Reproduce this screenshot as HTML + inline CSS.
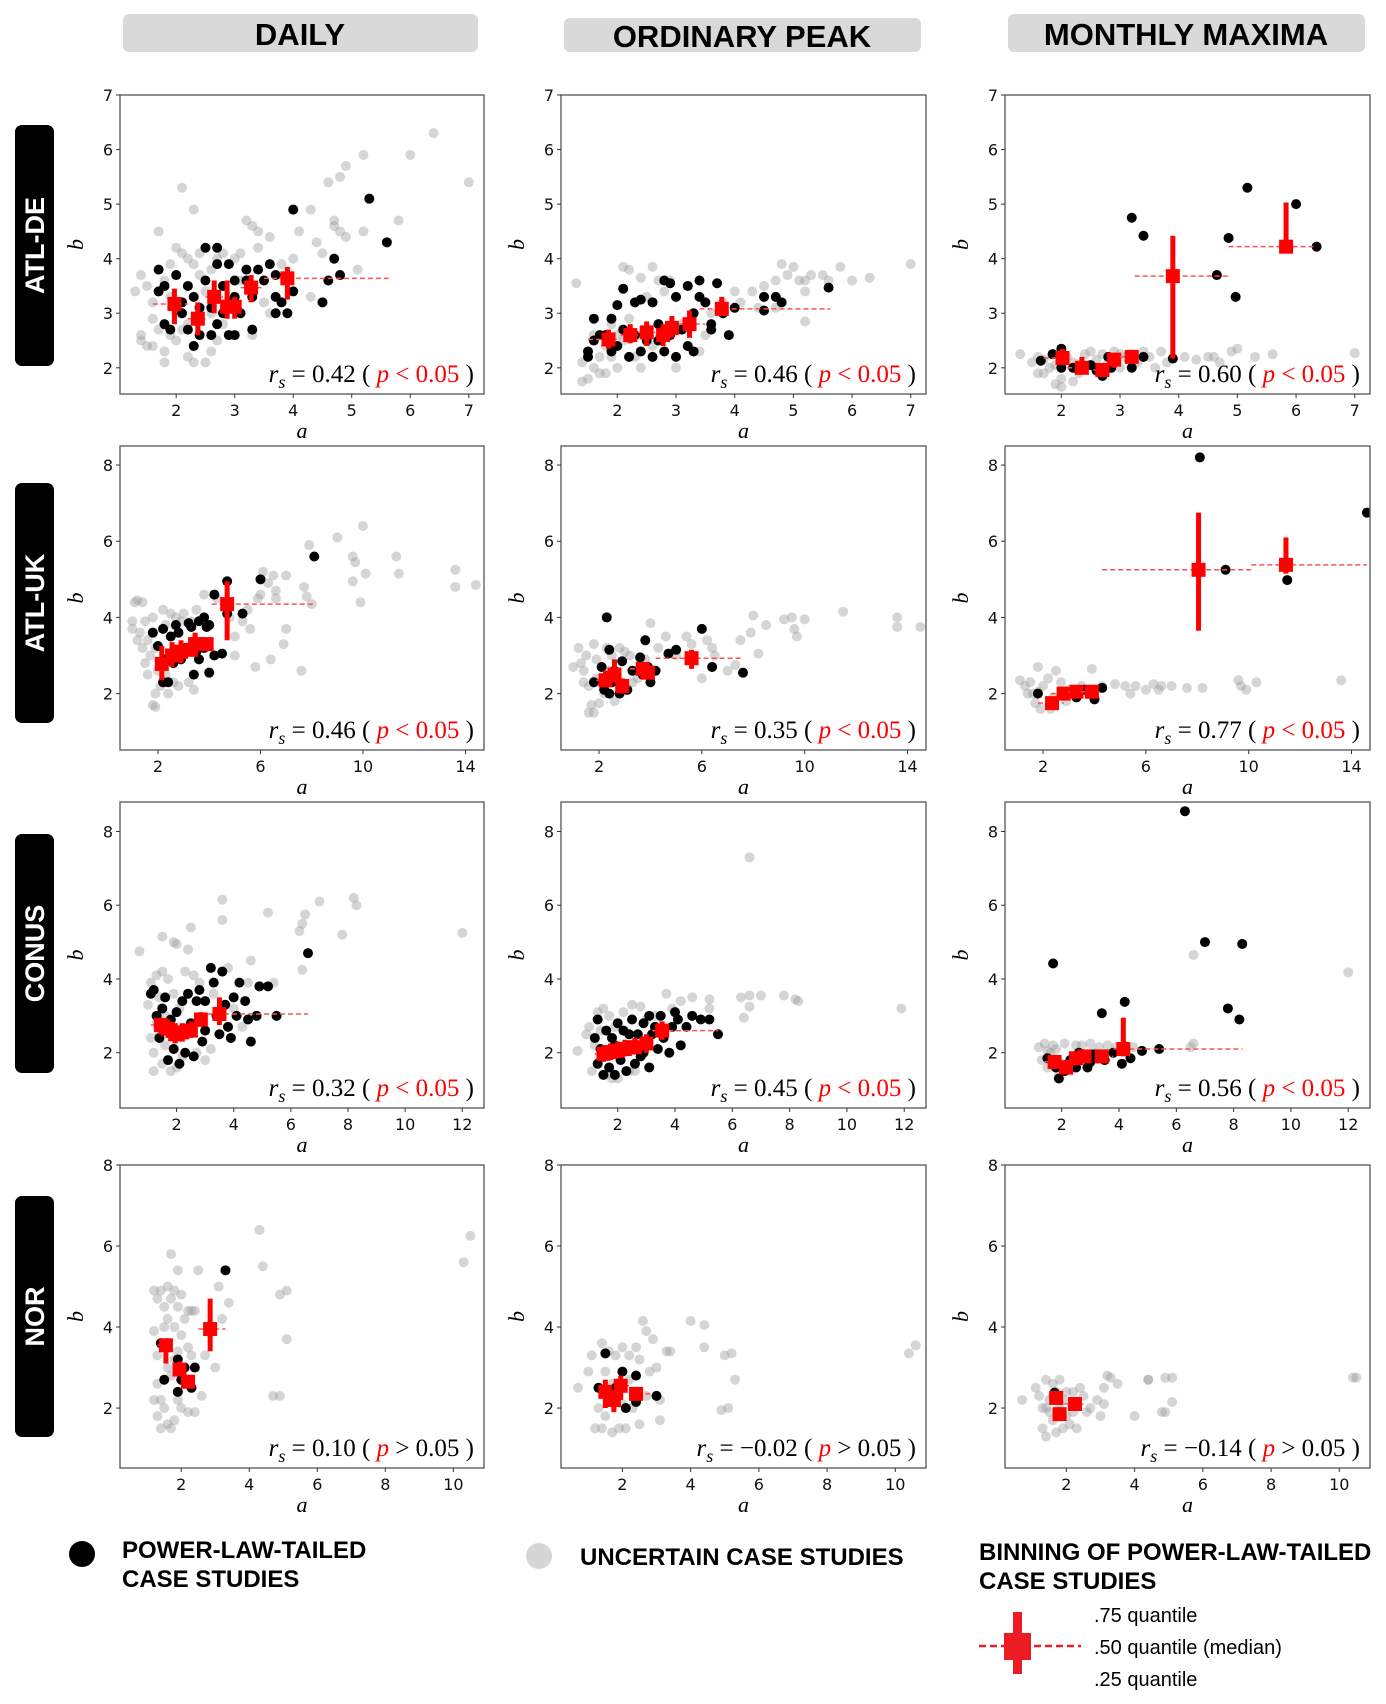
<!DOCTYPE html>
<html><head><meta charset="utf-8">
<style>
html,body{margin:0;padding:0;background:#fff;}
svg{display:block;}
</style></head>
<body>
<svg id="fig" width="1386" height="1704" viewBox="0 0 1386 1704" xmlns="http://www.w3.org/2000/svg">
<g id="headers">
  <rect x="123" y="14" width="355" height="38" rx="6" fill="#d9d9d9"/>
  <text x="300" y="45" text-anchor="middle" font-family="Liberation Sans, sans-serif" font-weight="bold" font-size="31">DAILY</text>
  <rect x="564" y="18" width="357" height="34" rx="6" fill="#d9d9d9"/>
  <text x="742" y="47" text-anchor="middle" font-family="Liberation Sans, sans-serif" font-weight="bold" font-size="31">ORDINARY PEAK</text>
  <rect x="1008" y="14" width="357" height="38" rx="6" fill="#d9d9d9"/>
  <text x="1186" y="45" text-anchor="middle" font-family="Liberation Sans, sans-serif" font-weight="bold" font-size="31">MONTHLY MAXIMA</text>
</g>
<g id="rowlabels"></g>
<g id="panels"></g>
<g id="legend">
  <circle cx="82" cy="1554" r="13" fill="#000"/>
  <text x="122" y="1558" font-family="Liberation Sans, sans-serif" font-weight="bold" font-size="24"><tspan x="122">POWER-LAW-TAILED</tspan><tspan x="122" y="1587">CASE STUDIES</tspan></text>
  <circle cx="539" cy="1556" r="13" fill="#d6d6d6"/>
  <text x="580" y="1565" font-family="Liberation Sans, sans-serif" font-weight="bold" font-size="24">UNCERTAIN CASE STUDIES</text>
  <text x="979" y="1560" font-family="Liberation Sans, sans-serif" font-weight="bold" font-size="24"><tspan x="979">BINNING OF POWER-LAW-TAILED</tspan><tspan x="979" y="1589">CASE STUDIES</tspan></text>
  <line x1="979" y1="1646" x2="1081" y2="1646" stroke="#ed1c24" stroke-width="2.5" stroke-dasharray="7,4"/>
  <rect x="1013" y="1612" width="9" height="62" fill="#ed1c24"/>
  <rect x="1004" y="1633" width="27" height="27" fill="#ed1c24"/>
  <text x="1094" y="1622" font-family="Liberation Sans, sans-serif" font-size="20">.75 quantile</text>
  <text x="1094" y="1654" font-family="Liberation Sans, sans-serif" font-size="20">.50 quantile (median)</text>
  <text x="1094" y="1686" font-family="Liberation Sans, sans-serif" font-size="20">.25 quantile</text>
</g>
</svg>
<script>
const rowNames = ["ATL-DE","ATL-UK","CONUS","NOR"];
const colNames = ["daily","ordinary-peak","monthly-maxima"];

const row1XTicks = [2,3,4,5,6,7];
const row1YTicks = [2,3,4,5,6,7];
const row2XTicks = [2,6,10,14];
const row2YTicks = [2,4,6,8];
const row3XTicks = [2,4,6,8,10,12];
const row3YTicks = [2,4,6,8];
const row4XTicks = [2,4,6,8,10];
const row4YTicks = [2,4,6,8];
const rowXDomain = [[1.04,7.26],[0.52,14.72],[0.02,12.76],[0.2,10.9]];
const rowYDomain = [[1.52,7.0],[0.52,8.5],[0.5,8.8],[0.52,8.0]];

const rsValues = [["0.42","0.46","0.60"],["0.46","0.35","0.77"],["0.32","0.45","0.56"],["0.10","\u22120.02","\u22120.14"]];
const pSymbols = [["<","<","<"],["<","<","<"],["<","<","<"],[">",">",">"]];

// ---- ATL-DE ----
const dailyAtldeGray = [[1.3,3.4],[1.4,3.7],[1.5,3.5],[1.4,2.6],[1.4,2.5],[1.5,2.4],[1.6,2.9],[1.6,3.2],[1.7,2.7],[1.7,4.5],[1.8,2.3],[1.8,2.1],[1.8,3.6],[1.9,2.6],[1.9,3.9],[2.0,4.2],[2.0,2.5],[2.1,4.1],[2.1,5.3],[2.2,4.0],[2.2,2.2],[2.3,4.9],[2.3,2.1],[2.3,3.9],[2.4,3.7],[2.4,4.1],[2.5,3.4],[2.5,2.1],[2.6,2.3],[2.6,3.8],[2.7,4.0],[2.7,2.5],[2.8,4.1],[2.9,2.6],[3.0,4.0],[3.1,4.1],[3.2,4.7],[3.3,4.6],[3.4,4.5],[3.4,4.2],[3.3,2.6],[3.5,3.2],[3.6,3.0],[3.6,4.4],[3.8,3.9],[4.0,4.0],[4.1,4.5],[4.3,4.9],[4.3,3.3],[4.4,4.3],[4.5,4.1],[4.6,5.4],[4.7,4.6],[4.7,4.7],[4.8,5.5],[4.9,5.7],[4.8,4.5],[4.9,4.4],[5.1,3.8],[5.2,5.9],[5.2,4.5],[5.8,4.7],[6.0,5.9],[6.4,6.3],[7.0,5.4],[5.6,4.3],[2.0,3.0],[2.2,2.8],[1.9,3.3],[2.6,3.0],[2.8,2.8],[3.1,3.6],[2.4,2.9],[2.1,2.7],[1.6,2.4]];
const dailyAtldeBlack = [[1.7,3.8],[1.7,3.4],[1.8,3.5],[1.8,2.8],[1.9,2.7],[2.0,3.7],[2.1,3.2],[2.1,3.0],[2.2,3.5],[2.2,2.7],[2.3,3.3],[2.4,2.6],[2.3,2.4],[2.5,4.2],[2.5,3.6],[2.6,3.1],[2.6,2.6],[2.7,4.2],[2.7,3.9],[2.7,2.8],[2.8,3.5],[2.8,3.0],[2.9,3.9],[2.9,2.6],[3.0,3.6],[3.0,3.3],[3.0,2.6],[3.1,3.0],[3.2,3.6],[3.2,3.8],[3.3,2.7],[3.3,3.3],[3.4,3.8],[3.5,3.6],[3.6,3.9],[3.7,3.7],[3.7,3.3],[3.7,3.0],[3.8,3.2],[3.9,3.0],[4.0,4.9],[4.0,3.4],[4.5,3.2],[4.6,3.6],[4.7,4.0],[4.8,3.7],[5.3,5.1],[5.6,4.3],[2.4,3.1],[2.9,3.2]];
const dailyAtldeBins = [[1.97,3.17,2.8,3.45,1.6,2.2],[2.37,2.9,2.6,3.2,2.2,2.5],[2.65,3.3,3.0,3.6,2.5,2.8],[2.87,3.12,2.9,3.6,2.8,2.95],[3.0,3.12,2.9,3.3,2.95,3.1],[3.28,3.47,3.2,3.7,3.1,3.5],[3.9,3.64,3.25,3.85,3.5,5.63]];

const peakAtldeGray = [[1.3,3.55],[1.4,2.1],[1.4,1.75],[1.5,1.8],[1.6,2.0],[1.6,2.6],[1.7,2.2],[1.8,2.4],[1.8,1.9],[1.9,2.8],[2.0,2.0],[2.1,3.85],[2.1,2.5],[2.2,3.8],[2.3,2.2],[2.4,3.65],[2.5,3.3],[2.6,3.85],[2.7,3.6],[2.8,3.4],[2.9,3.6],[3.0,3.3],[3.0,2.0],[3.2,2.4],[3.4,2.3],[3.5,2.6],[3.6,3.0],[3.8,3.2],[4.0,3.4],[4.1,3.2],[4.3,3.4],[4.4,3.1],[4.5,3.5],[4.7,3.6],[4.8,3.9],[4.9,3.7],[5.0,3.85],[5.1,3.6],[5.2,3.6],[5.2,3.4],[5.3,3.7],[5.5,3.7],[5.6,3.6],[5.8,3.85],[6.0,3.6],[6.3,3.65],[7.0,3.9],[5.2,2.85],[4.7,3.1],[1.9,2.2],[2.2,2.9],[2.6,2.4],[3.1,2.8],[2.4,2.0],[1.7,1.9],[2.0,2.6]];
const peakAtldeBlack = [[1.5,2.3],[1.5,2.2],[1.6,2.9],[1.6,2.5],[1.7,2.6],[1.8,2.6],[1.9,2.9],[1.9,2.3],[2.0,3.15],[2.0,2.4],[2.1,3.45],[2.1,2.7],[2.2,2.2],[2.3,3.2],[2.3,2.6],[2.4,3.25],[2.4,2.3],[2.5,2.5],[2.6,3.2],[2.6,2.2],[2.7,2.8],[2.8,3.6],[2.8,2.3],[2.9,3.55],[2.9,2.6],[3.0,3.3],[3.0,2.2],[3.1,2.7],[3.2,2.4],[3.2,3.5],[3.3,3.0],[3.4,3.6],[3.4,3.3],[3.5,3.2],[3.6,2.8],[3.7,3.55],[3.6,2.7],[3.8,3.0],[3.9,2.6],[4.0,3.1],[4.5,3.3],[4.5,3.05],[4.7,3.3],[4.8,3.2],[5.6,3.47],[2.7,2.5],[3.3,2.3]];
const peakAtldeBins = [[1.85,2.52,2.35,2.7,1.5,2.05],[2.22,2.6,2.45,2.8,2.05,2.35],[2.5,2.65,2.4,2.85,2.35,2.65],[2.78,2.6,2.4,2.8,2.65,2.85],[2.93,2.73,2.55,2.95,2.85,3.05],[3.23,2.8,2.55,3.05,3.05,3.5],[3.78,3.08,2.95,3.3,3.4,5.63]];

const monthlyAtldeGray = [[1.3,2.25],[1.5,2.1],[1.6,2.2],[1.7,1.9],[1.8,2.0],[1.9,1.7],[2.0,1.8],[2.1,2.2],[2.2,2.1],[2.3,1.9],[2.4,2.25],[2.5,2.3],[2.6,2.0],[2.7,2.25],[2.8,2.1],[2.9,2.3],[3.0,2.0],[3.1,2.2],[3.2,2.25],[3.3,2.1],[3.4,2.3],[3.5,2.2],[3.6,2.0],[3.7,2.3],[3.8,2.1],[4.1,2.2],[4.3,2.15],[4.5,2.2],[4.6,2.2],[4.7,2.1],[4.9,2.3],[5.0,2.35],[5.3,2.2],[5.6,2.25],[7.0,2.27],[1.7,2.15],[2.0,1.65],[2.3,2.05],[2.6,2.15],[1.6,1.9],[2.2,1.75],[3.0,2.25],[2.5,2.05],[1.9,2.05]];
const monthlyAtldeBlack = [[1.65,2.13],[1.85,2.25],[2.0,2.35],[2.0,2.0],[2.2,2.0],[2.5,2.05],[2.6,1.95],[2.7,1.85],[2.8,2.2],[2.85,2.0],[3.2,2.0],[3.4,2.2],[3.9,2.17],[3.2,4.75],[3.4,4.42],[4.65,3.7],[4.85,4.38],[4.97,3.3],[5.17,5.3],[6.0,5.0],[6.35,4.22]];
const monthlyAtldeBins = [[2.02,2.18,2.05,2.35,1.7,2.1],[2.35,2.0,1.9,2.2,2.1,2.5],[2.7,1.96,1.85,2.05,2.55,2.8],[2.9,2.15,2.0,2.25,2.8,3.0],[3.2,2.2,2.1,2.3,3.0,3.3],[3.9,3.68,2.17,4.42,3.25,4.85],[5.83,4.22,4.2,5.03,4.85,6.35]];

// ---- ATL-UK ----
const dailyAtlukGray = [[1.0,3.9],[1.1,4.4],[1.2,4.45],[1.4,4.4],[1.0,3.7],[1.3,3.6],[1.5,3.9],[1.6,3.4],[1.7,3.0],[1.8,4.0],[1.8,1.7],[1.9,1.65],[1.9,2.0],[2.0,2.6],[2.1,2.2],[2.2,4.2],[2.3,3.8],[2.4,2.0],[2.5,4.1],[2.6,2.3],[2.7,4.0],[2.9,3.9],[3.0,4.1],[3.2,2.3],[3.3,3.9],[3.4,2.1],[3.5,4.2],[3.8,4.6],[4.3,4.5],[4.8,4.0],[5.0,3.5],[5.0,3.0],[5.3,3.9],[5.5,4.2],[5.6,3.7],[5.8,2.7],[5.9,4.5],[6.0,4.6],[6.1,5.2],[6.3,4.9],[6.4,2.9],[6.5,5.1],[6.6,4.5],[6.6,4.7],[6.9,3.3],[7.0,5.1],[7.0,3.7],[7.6,2.6],[7.7,4.8],[7.8,4.55],[8.0,4.35],[7.9,5.9],[9.0,6.1],[9.6,5.6],[9.6,4.95],[9.7,5.45],[9.9,4.4],[10.0,6.4],[10.1,5.15],[11.3,5.6],[11.4,5.15],[13.6,5.25],[13.6,4.8],[14.4,4.85],[1.2,3.4],[1.5,2.8],[2.8,2.2],[1.9,3.2],[2.3,2.5],[1.6,2.5],[1.4,3.2]];
const dailyAtlukBlack = [[1.8,3.6],[2.2,3.7],[2.0,3.25],[2.2,2.3],[2.4,2.3],[2.5,3.5],[2.6,2.8],[2.7,3.8],[2.8,3.6],[3.2,3.85],[3.1,3.2],[3.3,3.75],[3.4,2.5],[3.6,3.9],[3.6,2.9],[3.8,4.0],[3.8,3.2],[3.9,3.75],[4.0,2.55],[4.0,3.8],[4.2,3.0],[4.2,4.6],[4.5,3.05],[4.7,4.95],[4.7,4.1],[5.3,4.1],[6.0,5.0],[8.1,5.6],[2.9,2.9],[2.3,2.9],[3.5,3.1]];
const dailyAtlukBins = [[2.15,2.78,2.35,3.25,1.9,2.35],[2.55,3.0,2.7,3.35,2.35,2.75],[2.9,3.1,2.8,3.4,2.7,3.1],[3.3,3.15,3.0,3.4,3.1,3.5],[3.45,3.3,3.05,3.6,3.2,3.7],[3.9,3.3,3.2,3.4,3.7,4.1],[4.7,4.35,3.4,4.95,4.1,8.1]];

const peakAtlukGray = [[1.0,2.7],[1.2,3.2],[1.3,2.8],[1.4,2.6],[1.5,3.0],[1.6,2.2],[1.6,1.5],[1.7,1.7],[1.8,3.3],[1.8,1.5],[1.9,2.9],[2.0,1.75],[2.1,2.7],[2.3,3.2],[2.5,3.0],[2.6,1.8],[2.8,3.2],[3.0,3.1],[3.2,3.0],[3.3,2.3],[3.5,2.4],[3.8,2.9],[4.0,3.85],[4.3,3.2],[4.6,3.5],[5.0,3.0],[5.4,3.5],[5.6,3.3],[6.0,2.4],[6.2,3.4],[6.4,3.2],[6.5,3.0],[7.0,2.6],[7.3,2.75],[7.5,3.4],[7.9,3.6],[8.0,4.05],[8.2,3.05],[8.5,3.8],[9.2,3.95],[9.5,4.0],[9.6,3.7],[9.7,3.5],[10.0,3.95],[11.5,4.15],[13.6,4.0],[13.6,3.75],[14.5,3.75],[2.4,2.6],[1.4,2.3],[2.2,2.0],[1.9,2.4]];
const peakAtlukBlack = [[1.8,2.3],[2.1,2.7],[2.2,2.1],[2.3,4.0],[2.4,3.15],[2.4,2.0],[2.5,2.3],[2.6,2.6],[2.8,2.0],[2.9,2.85],[3.1,2.1],[3.3,2.6],[3.6,2.95],[3.7,2.5],[3.8,3.4],[3.9,2.7],[4.0,2.3],[4.2,2.6],[4.7,3.05],[5.0,3.15],[6.0,3.7],[6.4,2.7],[7.6,2.55]];
const peakAtlukBins = [[2.25,2.35,2.2,2.6,1.9,2.5],[2.6,2.5,2.3,2.9,2.4,2.8],[2.9,2.2,2.0,2.4,2.7,3.2],[3.7,2.65,2.4,2.8,3.2,4.0],[3.9,2.55,2.4,2.7,3.6,4.2],[5.6,2.93,2.65,3.15,4.2,7.6]];

const monthlyAtlukGray = [[1.1,2.35],[1.3,2.2],[1.5,2.3],[1.6,2.0],[1.7,1.75],[1.8,2.7],[1.9,1.6],[2.0,2.2],[2.2,2.4],[2.3,1.6],[2.5,2.6],[2.7,2.3],[3.0,2.1],[3.5,2.2],[3.9,2.65],[4.3,2.2],[4.8,2.25],[5.2,2.2],[5.6,2.2],[6.0,2.1],[6.3,2.25],[6.6,2.2],[7.0,2.2],[7.6,2.15],[8.2,2.15],[9.6,2.35],[9.7,2.2],[9.9,2.1],[10.3,2.3],[13.6,2.35],[1.4,2.0],[1.8,2.05],[2.4,1.9],[2.9,1.8],[5.4,2.0],[6.5,2.1]];
const monthlyAtlukBlack = [[1.8,2.0],[3.3,1.9],[4.0,1.85],[4.3,2.15],[8.1,8.2],[9.1,5.25],[11.5,4.98],[14.6,6.75],[2.8,2.05],[3.6,2.1]];
const monthlyAtlukBins = [[2.35,1.75,1.65,1.9,1.8,2.8],[2.8,2.0,1.9,2.15,2.3,3.0],[3.3,2.05,1.95,2.2,3.0,3.6],[3.9,2.05,1.95,2.15,3.5,4.2],[8.05,5.25,3.65,6.75,4.3,10.1],[11.45,5.38,5.15,6.1,10.1,14.6]];

// ---- CONUS ----
const dailyConusGray = [[0.7,4.75],[1.0,3.3],[1.1,3.9],[1.2,2.0],[1.2,1.5],[1.3,4.1],[1.4,3.5],[1.5,5.15],[1.5,1.7],[1.6,3.0],[1.7,4.0],[1.8,1.5],[1.9,5.0],[2.0,4.95],[2.0,1.6],[2.3,4.2],[2.4,4.8],[2.5,5.4],[2.6,4.1],[2.8,3.9],[3.0,1.8],[3.2,2.1],[3.3,3.6],[3.6,6.15],[3.6,5.6],[3.8,4.3],[4.0,3.2],[4.5,3.9],[4.6,4.5],[5.2,5.8],[5.4,3.9],[6.3,5.3],[6.4,5.5],[6.5,5.75],[6.4,4.25],[7.0,6.1],[7.8,5.2],[8.2,6.2],[8.3,6.0],[12.0,5.25],[1.4,2.5],[1.6,2.2],[1.3,2.8],[2.2,1.9],[2.7,2.0],[1.9,3.6],[1.1,2.4],[1.5,4.2],[2.1,3.2],[4.3,2.7]];
const dailyConusBlack = [[1.1,3.6],[1.2,3.7],[1.3,3.0],[1.4,2.4],[1.5,3.2],[1.6,3.5],[1.7,1.8],[1.8,2.9],[1.9,2.1],[2.0,3.1],[2.1,1.7],[2.2,3.4],[2.3,2.0],[2.4,3.6],[2.5,2.8],[2.6,1.9],[2.7,3.4],[2.8,3.7],[2.9,2.3],[3.0,3.4],[3.0,2.6],[3.2,4.3],[3.3,3.9],[3.4,3.0],[3.5,2.5],[3.6,4.2],[3.7,3.3],[3.8,2.7],[3.9,2.4],[4.0,3.5],[4.1,3.0],[4.2,3.9],[4.4,3.4],[4.5,2.9],[4.6,2.3],[4.9,3.8],[5.2,3.8],[5.5,3.0],[6.6,4.7],[4.8,3.0],[2.1,2.6],[1.7,2.7]];
const dailyConusBins = [[1.45,2.75,2.5,2.95,1.1,1.6],[1.7,2.65,2.4,2.9,1.6,1.85],[1.95,2.5,2.25,2.8,1.85,2.05],[2.2,2.55,2.3,2.8,2.05,2.35],[2.5,2.6,2.4,2.85,2.35,2.65],[2.85,2.9,2.7,3.1,2.65,3.05],[3.5,3.05,2.75,3.5,3.1,6.6]];

const peakConusGray = [[0.6,2.05],[0.9,2.5],[1.0,2.7],[1.1,1.5],[1.3,3.1],[1.5,3.2],[1.7,3.0],[1.9,2.7],[2.0,1.3],[2.2,3.1],[2.5,3.3],[2.6,1.5],[2.8,3.25],[3.0,2.9],[3.3,3.0],[3.7,3.6],[3.9,3.2],[4.2,3.4],[4.6,3.5],[5.2,3.45],[5.2,3.2],[6.3,3.5],[6.4,2.95],[6.6,3.55],[6.6,3.25],[7.0,3.55],[7.8,3.55],[8.2,3.45],[8.3,3.4],[6.6,7.3],[11.9,3.2],[1.2,2.2],[1.6,1.4],[2.4,1.5],[1.8,1.3],[1.4,2.6]];
const peakConusBlack = [[1.2,2.4],[1.3,1.7],[1.3,2.9],[1.4,2.1],[1.5,1.4],[1.6,2.6],[1.7,1.6],[1.8,2.4],[1.9,1.4],[2.0,2.8],[2.1,1.8],[2.2,2.6],[2.3,1.5],[2.4,2.2],[2.5,2.9],[2.6,1.7],[2.7,2.5],[2.8,1.9],[2.9,2.8],[3.0,2.3],[3.1,1.6],[3.1,3.0],[3.3,2.7],[3.4,2.1],[3.5,3.0],[3.6,2.4],[3.8,2.0],[3.9,2.7],[4.0,3.1],[4.1,2.9],[4.2,2.2],[4.4,2.7],[4.6,3.0],[4.9,2.9],[5.2,2.9],[5.5,2.5],[2.9,2.0],[1.9,2.2],[2.4,2.5],[3.2,2.5]];
const peakConusBins = [[1.5,1.97,1.75,2.2,1.2,1.7],[1.75,2.02,1.8,2.25,1.6,1.9],[2.0,2.05,1.85,2.3,1.9,2.1],[2.25,2.1,1.9,2.35,2.1,2.4],[2.6,2.15,1.95,2.4,2.4,2.8],[3.0,2.25,2.0,2.5,2.8,3.2],[3.55,2.6,2.35,2.85,3.2,5.5]];

const monthlyConusGray = [[1.2,2.15],[1.4,2.25],[1.5,1.6],[1.7,2.2],[1.9,1.4],[2.1,2.25],[2.3,1.5],[2.5,2.2],[2.7,2.2],[3.0,2.25],[3.3,2.15],[3.6,2.2],[3.9,2.15],[4.2,2.2],[4.5,2.15],[6.5,2.15],[6.6,2.25],[6.6,4.65],[12.0,4.18],[1.3,1.8],[1.6,2.0],[2.0,1.7],[2.8,1.8],[3.1,2.0],[1.8,2.1],[2.4,1.9],[1.5,2.05]];
const monthlyConusBlack = [[1.5,1.85],[1.7,4.42],[1.8,1.6],[1.9,1.3],[2.1,1.5],[2.3,1.8],[2.5,1.6],[2.7,1.9],[2.9,1.6],[3.1,1.95],[3.4,3.07],[3.5,1.8],[3.8,2.0],[4.1,1.7],[4.2,3.38],[4.4,1.85],[4.8,2.05],[5.4,2.1],[6.3,8.55],[7.0,5.0],[7.8,3.2],[8.2,2.9],[8.3,4.95],[2.6,2.0],[3.0,1.75]];
const monthlyConusBins = [[1.75,1.75,1.6,1.9,1.4,2.0],[2.15,1.6,1.5,1.8,1.95,2.3],[2.5,1.85,1.7,2.0,2.3,2.7],[2.8,1.9,1.75,2.05,2.7,3.0],[3.4,1.9,1.75,2.05,3.2,3.8],[4.15,2.1,1.9,2.95,3.8,8.3]];

// ---- NOR ----
const dailyNorGray = [[1.2,4.9],[1.3,4.7],[1.2,3.9],[1.3,3.3],[1.3,2.6],[1.2,2.2],[1.3,1.8],[1.4,1.5],[1.4,4.9],[1.5,4.5],[1.5,2.0],[1.6,5.0],[1.6,4.2],[1.6,3.0],[1.6,1.6],[1.7,5.8],[1.7,4.7],[1.7,1.5],[1.8,4.9],[1.8,4.0],[1.8,1.7],[1.9,5.4],[1.9,4.5],[1.9,3.4],[1.9,2.2],[2.0,4.8],[2.0,2.0],[2.1,4.2],[2.2,4.4],[2.2,3.5],[2.2,1.9],[2.3,4.4],[2.3,3.3],[2.4,4.4],[2.4,1.9],[2.5,5.4],[2.6,2.3],[2.7,3.3],[2.8,4.0],[3.0,3.0],[3.1,5.0],[3.2,4.2],[3.4,4.6],[4.3,6.4],[4.4,5.5],[4.7,2.3],[4.9,2.3],[4.9,4.8],[5.1,4.9],[5.1,3.7],[10.3,5.6],[10.5,6.25],[1.4,3.6],[1.5,4.0],[1.7,2.8],[2.1,2.7],[1.8,3.2],[2.0,3.8],[1.4,2.2],[2.3,2.5]];
const dailyNorBlack = [[1.4,3.6],[1.5,2.7],[1.6,3.6],[1.9,3.2],[1.9,2.4],[2.1,3.0],[2.3,2.5],[2.4,3.0],[3.3,5.4],[2.0,2.7]];
const dailyNorBins = [[1.55,3.55,3.1,3.7,1.3,1.7],[1.95,2.95,2.8,3.15,1.8,2.1],[2.2,2.65,2.5,2.8,2.1,2.3],[2.85,3.95,3.4,4.7,2.5,3.3]];

const peakNorGray = [[0.7,2.5],[1.0,2.9],[1.1,3.3],[1.2,1.5],[1.3,2.0],[1.4,3.6],[1.5,1.8],[1.6,3.4],[1.7,1.4],[1.8,3.3],[1.9,1.5],[2.0,3.5],[2.0,2.1],[2.1,1.5],[2.2,3.3],[2.3,2.0],[2.4,3.5],[2.5,3.2],[2.5,1.6],[2.6,4.15],[2.7,3.9],[2.7,2.3],[2.8,2.9],[2.9,3.7],[3.0,3.0],[3.1,2.2],[3.1,1.7],[3.3,3.4],[3.4,3.4],[4.0,4.15],[4.4,4.05],[4.4,3.5],[4.9,1.95],[5.1,2.0],[5.0,3.3],[5.2,3.35],[5.3,2.7],[10.4,3.35],[10.6,3.55],[1.3,2.5],[1.5,2.9],[1.7,2.6],[1.9,2.4],[1.6,2.2],[2.2,2.7],[1.4,1.5]];
const peakNorBlack = [[1.3,2.5],[1.5,3.35],[1.7,2.2],[1.8,2.5],[2.0,2.9],[2.1,2.0],[2.4,2.15],[2.4,2.8],[3.0,2.3]];
const peakNorBins = [[1.5,2.4,2.0,2.7,1.3,1.7],[1.75,2.2,1.9,2.45,1.6,1.9],[1.95,2.55,2.2,2.8,1.9,2.2],[2.4,2.35,2.2,2.5,2.2,2.9]];

const monthlyNorGray = [[0.7,2.2],[1.1,2.5],[1.2,2.3],[1.3,2.0],[1.3,1.5],[1.4,2.7],[1.4,1.3],[1.5,2.2],[1.6,2.6],[1.6,1.7],[1.7,1.4],[1.8,2.7],[1.9,1.5],[2.0,2.4],[2.1,1.6],[2.2,2.4],[2.3,1.5],[2.4,2.5],[2.5,2.3],[2.6,1.9],[2.7,2.0],[2.9,2.2],[3.0,1.8],[3.1,2.1],[3.1,2.5],[3.2,2.8],[3.3,2.75],[3.5,2.6],[4.0,1.8],[4.4,2.7],[4.4,2.7],[4.8,1.9],[4.9,1.9],[4.9,2.75],[5.1,2.75],[5.1,2.15],[10.4,2.75],[10.5,2.75],[1.5,1.9],[1.8,2.1],[1.7,2.4],[2.0,1.8],[1.9,2.2],[2.2,1.9],[1.6,2.3],[1.4,2.0]];
const monthlyNorBlack = [[1.65,2.38]];
const monthlyNorBins = [[1.7,2.25,2.1,2.35,1.5,1.95],[1.8,1.85,1.7,2.0,1.6,2.05],[2.25,2.1,2.0,2.2,1.95,2.5]];

const panelGray = [[dailyAtldeGray,peakAtldeGray,monthlyAtldeGray],[dailyAtlukGray,peakAtlukGray,monthlyAtlukGray],[dailyConusGray,peakConusGray,monthlyConusGray],[dailyNorGray,peakNorGray,monthlyNorGray]];
const panelBlack = [[dailyAtldeBlack,peakAtldeBlack,monthlyAtldeBlack],[dailyAtlukBlack,peakAtlukBlack,monthlyAtlukBlack],[dailyConusBlack,peakConusBlack,monthlyConusBlack],[dailyNorBlack,peakNorBlack,monthlyNorBlack]];
const panelBins = [[dailyAtldeBins,peakAtldeBins,monthlyAtldeBins],[dailyAtlukBins,peakAtlukBins,monthlyAtlukBins],[dailyConusBins,peakConusBins,monthlyConusBins],[dailyNorBins,peakNorBins,monthlyNorBins]];
const rowXTicks = [row1XTicks,row2XTicks,row3XTicks,row4XTicks];
const rowYTicks = [row1YTicks,row2YTicks,row3YTicks,row4YTicks];

const NS = "http://www.w3.org/2000/svg";
const colX = [[120,484],[561,926],[1005,1370]];
const rowY = [[95,394],[446,750],[802,1108],[1165,1468]];
const rowBoxY = [[125,366],[483,723],[834,1073],[1196,1437]];

function mk(tag, attrs, parent){
  const el = document.createElementNS(NS, tag);
  for (const k in attrs) el.setAttribute(k, attrs[k]);
  parent.appendChild(el);
  return el;
}

const rowLabels = document.getElementById('rowlabels');
rowNames.forEach((nm,i)=>{
  const [y0,y1] = rowBoxY[i];
  const r = mk('rect',{x:15,y:y0,width:39,height:y1-y0,rx:7,fill:'#000'},rowLabels);
  
  
  const cy = (y0+y1)/2, cx = 44;
  const t = mk('text',{x:cx,y:cy,transform:`rotate(-90 ${cx} ${cy})`,'text-anchor':'middle',fill:'#fff','font-family':'Liberation Sans, sans-serif','font-weight':'bold','font-size':27},rowLabels);
  t.textContent = nm;
  
  
});

const panels = document.getElementById('panels');
for (let r=0;r<4;r++){
  for (let c=0;c<3;c++){
    const [L,R] = colX[c], [T,B] = rowY[r];
    const [x0,x1] = rowXDomain[r], [y0,y1] = rowYDomain[r];
    const sx = v => L + (v-x0)/(x1-x0)*(R-L);
    const sy = v => B - (v-y0)/(y1-y0)*(B-T);
    const pid = colNames[c] + '-' + rowNames[r].toLowerCase();
    const g = mk('g',{},panels);
    
    
    const clipId = 'clip-' + pid;
    const cp = mk('clipPath',{id:clipId},g);
    mk('rect',{x:L,y:T,width:R-L,height:B-T},cp);

    const plot = mk('g',{'clip-path':`url(#${clipId})`},g);
    
    

    panelGray[r][c].forEach(p=>{
      const el = mk('circle',{cx:sx(p[0]),cy:sy(p[1]),r:5,fill:'#9a9a9a','fill-opacity':0.42},plot);
      
      
    });
    panelBlack[r][c].forEach(p=>{
      const el = mk('circle',{cx:sx(p[0]),cy:sy(p[1]),r:5,fill:'#000'},plot);
      
      
    });
    panelBins[r][c].forEach(bn=>{
      const [a,b,q25,q75,lo,hi] = bn;
      const ln = mk('line',{x1:sx(lo),x2:sx(hi),y1:sy(b),y2:sy(b),stroke:'#ff5050','stroke-width':1.5,'stroke-dasharray':'5,3'},plot);
      
      
      const vb = mk('rect',{x:sx(a)-2.5,y:sy(q75),width:5,height:Math.max(1,sy(q25)-sy(q75)),fill:'#ff0000'},plot);
      
      
      const sq = mk('rect',{x:sx(a)-7,y:sy(b)-7,width:14,height:14,fill:'#ff0000'},plot);
      
      
    });

    const frame = mk('rect',{x:L,y:T,width:R-L,height:B-T,fill:'none',stroke:'#555','stroke-width':1.3},g);
    
    

    rowXTicks[r].forEach(v=>{
      const x = sx(v);
      const tk = mk('line',{x1:x,x2:x,y1:B,y2:B+4,stroke:'#333','stroke-width':1},g);
      
      
      const t = mk('text',{x:x,y:B+22,'text-anchor':'middle','font-family':'DejaVu Sans, Liberation Sans, sans-serif','font-size':16,fill:'#111'},g);
      t.textContent = v;
      
      
    });
    rowYTicks[r].forEach(v=>{
      const y = sy(v);
      const tk = mk('line',{x1:L-4,x2:L,y1:y,y2:y,stroke:'#333','stroke-width':1},g);
      
      
      const t = mk('text',{x:L-7,y:y+6,'text-anchor':'end','font-family':'DejaVu Sans, Liberation Sans, sans-serif','font-size':16,fill:'#111'},g);
      t.textContent = v;
      
      
    });
    const xl = mk('text',{x:(L+R)/2,y:B+44,'text-anchor':'middle','font-family':'Liberation Serif, serif','font-style':'italic','font-size':22},g);
    xl.textContent = 'a';
    
    
    const ycx = L-37, ycy = (T+B)/2;
    const yl = mk('text',{x:ycx,y:ycy,transform:`rotate(-90 ${ycx} ${ycy})`,'text-anchor':'middle','font-family':'Liberation Serif, serif','font-style':'italic','font-size':22},g);
    yl.textContent = 'b';
    
    

    const st = mk('text',{x:R-10,y:B-12,'text-anchor':'end','font-family':'Liberation Serif, serif','font-size':25,fill:'#000'},g);
    
    
    const t1 = mk('tspan',{'font-style':'italic'},st); t1.textContent='r';
    const t2 = mk('tspan',{'font-style':'italic','font-size':18,dy:6},st); t2.textContent='s';
    const t3 = mk('tspan',{dy:-6},st); t3.textContent=' = ' + rsValues[r][c] + ' ( ';
    const t4 = mk('tspan',{'font-style':'italic',fill:'#ff0000'},st); t4.textContent='p';
    const t5 = mk('tspan',{fill: pSymbols[r][c]==='<' ? '#ff0000' : '#000'},st); t5.textContent=' ' + pSymbols[r][c] + ' 0.05';
    const t6 = mk('tspan',{},st); t6.textContent=' )';
  }
}
</script>
</body></html>
